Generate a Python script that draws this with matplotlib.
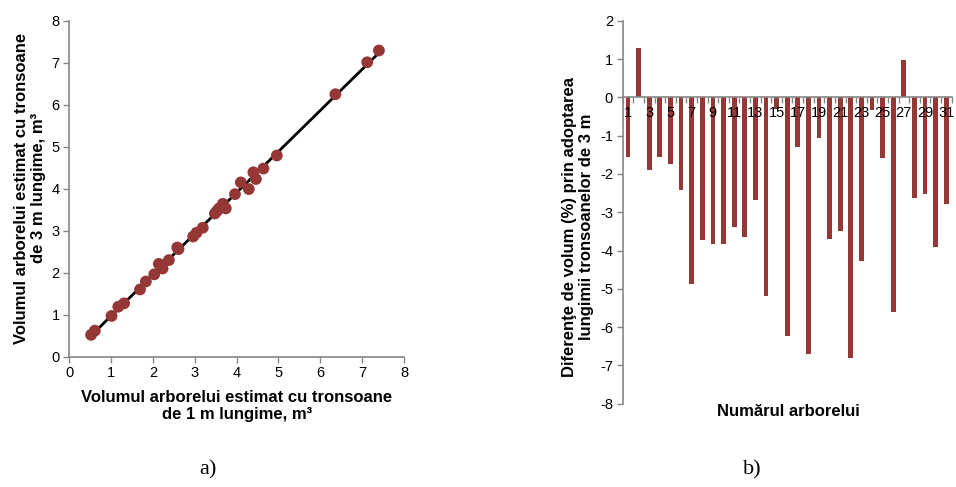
import numpy as np
import matplotlib
matplotlib.use("Agg")
import matplotlib.pyplot as plt
from matplotlib.ticker import FixedLocator, NullFormatter

plt.rcParams['font.family'] = ['Liberation Sans', 'DejaVu Sans']
plt.rcParams['axes.unicode_minus'] = False

# (a) tree volume estimated with 1 m sections vs 3 m sections (m³)
vol_1m = [0.52, 0.61, 1.01, 1.17, 1.31, 1.69, 1.83, 2.03, 2.14, 2.23,
          2.38, 2.61, 2.58, 2.96, 3.04, 3.19, 3.48, 3.53, 3.58, 3.67,
          3.74, 3.96, 4.10, 4.29, 4.40, 4.46, 4.64, 4.96, 6.36, 7.12, 7.40]
vol_3m = [0.52, 0.62, 0.97, 1.19, 1.27, 1.60, 1.79, 1.96, 2.21, 2.10,
          2.30, 2.56, 2.60, 2.86, 2.95, 3.07, 3.41, 3.47, 3.53, 3.64,
          3.53, 3.87, 4.15, 3.99, 4.39, 4.23, 4.48, 4.79, 6.25, 7.01, 7.29]

# (b) volume difference (%) per tree when using 3 m sections
tree_no = list(range(1, 32))
diff_pct = [-1.55, 1.28, -1.91, -1.55, -1.73, -2.42, -4.87, -3.73, -3.83, -3.83,
            -3.39, -3.64, -2.69, -5.18, -0.31, -6.22, -1.31, -6.71, -1.05, -3.71,
            -3.50, -6.80, -4.28, -0.33, -1.59, -5.60, 0.97, -2.64, -2.53, -3.92,
            -2.79]

red = '#953735'
grey = '#868686'
tick_fs = 10.5
label_fs = 12

fig = plt.figure(figsize=(9.56, 4.87), dpi=100)

# ---- panel a: scatter with trend line
ax1 = fig.add_axes([0.0725, 0.2676, 0.3501, 0.6899])
x1 = np.array(vol_1m)
y1 = np.array(vol_3m)
k, b = np.polyfit(x1, y1, 1)
xs = np.array([x1.min(), x1.max()])
ax1.plot(xs, k * xs + b, color='black', lw=2.0, zorder=2)
ax1.scatter(x1, y1, s=72, color=red, edgecolors='none', zorder=3)
ax1.set_xlim(0, 8)
ax1.set_ylim(0, 8)
ax1.set_xticks(range(0, 9))
ax1.set_yticks(range(0, 9))
for s in ('top', 'right'):
    ax1.spines[s].set_visible(False)
for s in ('left', 'bottom'):
    ax1.spines[s].set_color(grey)
    ax1.spines[s].set_linewidth(1.2)
ax1.tick_params(axis='both', direction='out', length=4, width=1, color=grey,
                labelsize=tick_fs, pad=3)

fig.text(237 / 956, 1 - 406 / 487,
         'Volumul arborelui estimat cu tronsoane\nde 1 m lungime, m³',
         ha='center', va='center', fontsize=label_fs, fontweight='bold',
         linespacing=1.15)
fig.text(30 / 956, 1 - 188 / 487,
         'Volumul arborelui estimat cu tronsoane\nde 3 m lungime, m³',
         ha='center', va='center', rotation=90, fontsize=label_fs,
         fontweight='bold', linespacing=1.2)

# ---- panel b: bar chart of differences
ax2 = fig.add_axes([0.6514, 0.1710, 0.344, 0.7865])
ax2.bar(tree_no, diff_pct, width=0.45, color=red, zorder=1)
ax2.set_xlim(0.5, 31.5)
ax2.set_ylim(-8, 2)
ax2.set_yticks(range(-8, 3))
ax2.spines['bottom'].set_position(('data', 0))
for s in ('top', 'right'):
    ax2.spines[s].set_visible(False)
for s in ('left', 'bottom'):
    ax2.spines[s].set_color(grey)
    ax2.spines[s].set_linewidth(1.2)
ax2.set_xticks(tree_no[::2])
ax2.set_xticklabels([str(t) for t in tree_no[::2]])
ax2.xaxis.set_minor_locator(FixedLocator(np.arange(0.5, 32.0, 1.0)))
ax2.xaxis.set_minor_formatter(NullFormatter())
ax2.tick_params(axis='x', which='major', length=0, labelsize=tick_fs, pad=6)
ax2.tick_params(axis='x', which='minor', direction='out', length=4, width=1,
                color=grey)
ax2.tick_params(axis='y', direction='out', length=4, width=1, color=grey,
                labelsize=tick_fs, pad=3)

fig.text(788 / 956, 1 - 412 / 487, 'Numărul arborelui',
         ha='center', va='center', fontsize=label_fs, fontweight='bold')
fig.text(578 / 956, 1 - 227 / 487,
         'Diferenţe de volum (%) prin adoptarea\nlungimii tronsoanelor de 3 m',
         ha='center', va='center', rotation=90, fontsize=label_fs,
         fontweight='bold', linespacing=1.15)

# panel captions
fig.text(208 / 956, 1 - 470 / 487, 'a)', ha='center', va='center',
         fontsize=16, family='Liberation Serif')
fig.text(752 / 956, 1 - 470 / 487, 'b)', ha='center', va='center',
         fontsize=16, family='Liberation Serif')

fig.savefig('out.png', dpi=100)
